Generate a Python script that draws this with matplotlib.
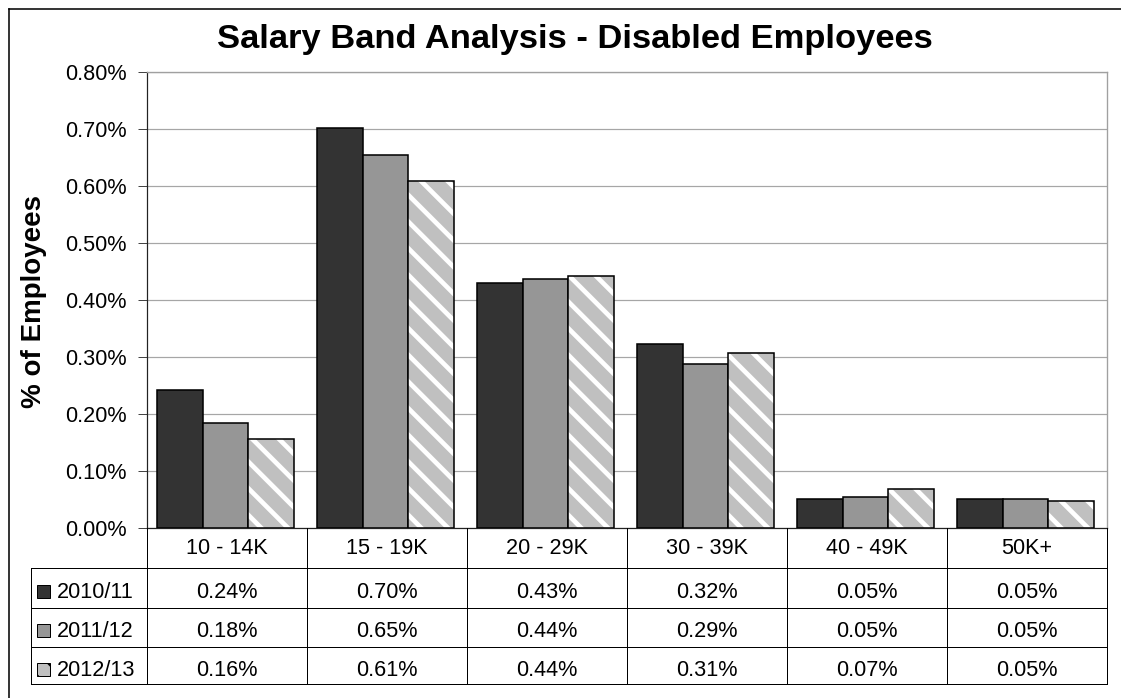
import matplotlib
matplotlib.use('Agg')
import matplotlib.pyplot as plt
from matplotlib.lines import Line2D
from matplotlib.patches import Rectangle
import matplotlib.transforms as mtransforms
import numpy as np

# Доля працівників з інвалідністю по зарплатних діапазонах, %
bands = ['10 - 14K', '15 - 19K', '20 - 29K', '30 - 39K', '40 - 49K', '50K+']
years = ['2010/11', '2011/12', '2012/13']
share_2010 = [0.242, 0.702, 0.430, 0.323, 0.051, 0.051]
share_2011 = [0.184, 0.654, 0.437, 0.288, 0.054, 0.051]
share_2012 = [0.156, 0.609, 0.442, 0.307, 0.068, 0.047]
y_ticks = [0.0, 0.1, 0.2, 0.3, 0.4, 0.5, 0.6, 0.7, 0.8]

series = [share_2010, share_2011, share_2012]
fills = ['#333333', '#969696', '#c0c0c0']
hatches = [None, None, '\\']

W, H, DPI = 1121, 698, 80
FS = 19.5
plt.rcParams['font.family'] = ['Liberation Sans', 'DejaVu Sans']
plt.rcParams['hatch.linewidth'] = 4.2

fig = plt.figure(figsize=(W / DPI, H / DPI), dpi=DPI)


def fx(px):
    return px / W


def fy(py):
    return 1 - py / H


ax = fig.add_axes([fx(147), fy(528), fx(1107) - fx(147), fy(72) - fy(528)])

x = np.arange(len(bands))
bw = 0.286
for i, vals in enumerate(series):
    pos = x + (i - 1) * bw - 0.01
    if hatches[i]:
        ax.bar(pos, vals, bw, color=fills[i], edgecolor='white', linewidth=0,
               hatch=hatches[i], zorder=3)
        ax.bar(pos, vals, bw, fill=False, edgecolor='black', linewidth=1.4, zorder=4)
    else:
        ax.bar(pos, vals, bw, color=fills[i], edgecolor='black', linewidth=1.4, zorder=3)

ax.set_xlim(-0.5, len(bands) - 0.5)
ax.set_ylim(0, 0.8)
ax.set_yticks(y_ticks)
ax.set_yticklabels([f'{t:.2f}%' for t in y_ticks], fontsize=FS)
ax.set_xticks([])
ax.tick_params(axis='y', length=8, width=0.9, pad=10, direction='out', color='#444444')
ax.yaxis.grid(True, color='#a6a6a6', linewidth=1.1, zorder=0)
ax.set_axisbelow(True)
for side in ['top', 'right']:
    ax.spines[side].set_color('#a0a0a0')
    ax.spines[side].set_linewidth(1.2)
for side in ['left', 'bottom']:
    ax.spines[side].set_color('#222222')
    ax.spines[side].set_linewidth(1.1)

fig.text(fx(575), fy(48), 'Salary Band Analysis - Disabled Employees',
         ha='center', va='baseline', fontsize=31, fontweight='bold')
fig.text(fx(34), fy(301), '% of Employees', rotation=90, ha='center', va='center',
         fontsize=25, fontweight='bold')

# Таблиця значень під графіком
tr = mtransforms.blended_transform_factory(ax.transData, fig.transFigure)
lc = 'black'
lw = 0.9
row_lines = [568, 608, 647, 684]
for yy in row_lines:
    fig.add_artist(Line2D([fx(30.5), fx(1107)], [fy(yy), fy(yy)], color=lc, lw=lw))
fig.add_artist(Line2D([fx(30.5), fx(30.5)], [fy(568), fy(684)], color=lc, lw=lw))
for k in range(len(bands) + 1):
    fig.add_artist(Line2D([k - 0.5, k - 0.5], [fy(528), fy(684)], color=lc, lw=lw,
                          transform=tr))

for j, name in enumerate(bands):
    fig.text(j, fy(554), name, transform=tr, ha='center', va='baseline', fontsize=FS)

baselines = [598, 637, 675.5]
for i, vals in enumerate(series):
    base = baselines[i]
    fig.add_artist(Rectangle((fx(37), fy(base)), fx(13), fy(0) - fy(13),
                             facecolor=fills[i], edgecolor='black', linewidth=0.9,
                             hatch=hatches[i] if hatches[i] else None))
    fig.text(fx(57), fy(base), years[i], ha='left', va='baseline', fontsize=FS)
    for j, v in enumerate(vals):
        fig.text(j, fy(base), f'{v:.2f}%', transform=tr, ha='center', va='baseline',
                 fontsize=FS)

# Рамка навколо діаграми
fig.add_artist(Line2D([fx(9), fx(9)], [fy(8.5), -0.1], color='black', lw=1.4))
fig.add_artist(Line2D([fx(9), 1.1], [fy(8.5), fy(8.5)], color='black', lw=1.4))

fig.savefig('out.png', dpi=DPI)
